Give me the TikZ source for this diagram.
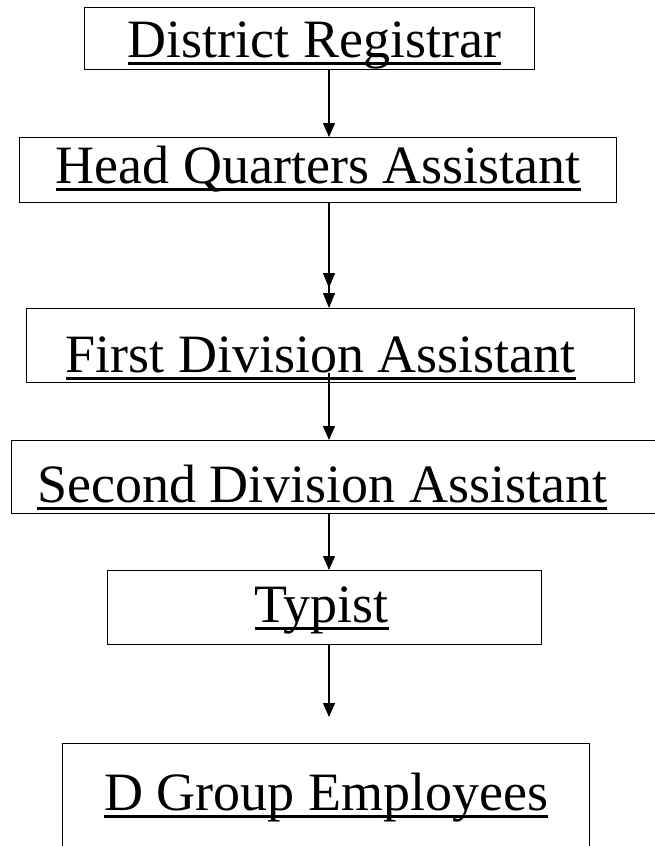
\documentclass[tikz,border=0pt]{standalone}
\usepackage{fontspec}
\setmainfont{Liberation Serif}
\usetikzlibrary{arrows.meta, positioning, calc}

% underline that runs through the descenders (optional arg nudges the text sideways)
\newsavebox{\ulbox}
\newcommand{\ultext}[2][0pt]{\hspace*{#1}\sbox{\ulbox}{#2}\rlap{\rule[-7pt]{\wd\ulbox}{2.2pt}}\usebox{\ulbox}}

\begin{document}
\begin{tikzpicture}[
    x=1pt, y=-1pt,
    % --- Box and arrow styles ---
    post/.style={
        draw,
        line width=1.3pt,
        inner sep=0pt,
        anchor=north west,
        font=\fontsize{54}{60}\selectfont
    },
    arrow/.style={-{Triangle[width=12pt,length=14pt]}, line width=1.2pt},
    twohead/.style={-{Triangle[width=12pt,length=15pt,sep=5pt]Triangle[width=12pt,length=15pt]}, line width=1.2pt}
]

    \useasboundingbox (0,0) rectangle (655,846);
    \clip (0,0) rectangle (655,846);

    % --- The posts, top to bottom ---
    \node (b1) [post, minimum width=450pt, text height=50pt, text depth=12pt] at (84,7)
        {\ultext[10pt]{District Registrar}};

    \node (b2) [post, minimum width=597pt, text height=46pt, text depth=19pt] at (19,137)
        {\ultext{Head Quarters Assistant}};

    \node (b3) [post, minimum width=608pt, text height=64pt, text depth=10pt] at (26,308)
        {\ultext[-20pt]{First Division Assistant}};

    \node (b4) [post, minimum width=659pt, text height=62pt, text depth=11pt] at (11,440)
        {\ultext[-38pt]{Second Division Assistant}};

    \node (b5) [post, minimum width=434pt, text height=52pt, text depth=22pt] at (107,570)
        {\ultext[-6pt]{Typist}};

    \node (b6) [post, minimum width=527pt, text height=67pt, text depth=60pt] at (62,743)
        {\ultext{D Group Employees}};

    % --- Arrows down the chain ---
    \coordinate (spine) at (329,0);
    \coordinate (b6gap) at ($(b6.north -| spine)+(0,-26)$);

    \draw [arrow] (b1.south -| spine) -- (b2.north -| spine);
    \draw [twohead] (b2.south -| spine) -- (b3.north -| spine);
    \draw [arrow] (b3.base -| spine) -- (b4.north -| spine);
    \draw [arrow] (b4.south -| spine) -- (b5.north -| spine);
    \draw [arrow] (b5.south -| spine) -- (b6gap); % stops short of the last box

\end{tikzpicture}
\end{document}
